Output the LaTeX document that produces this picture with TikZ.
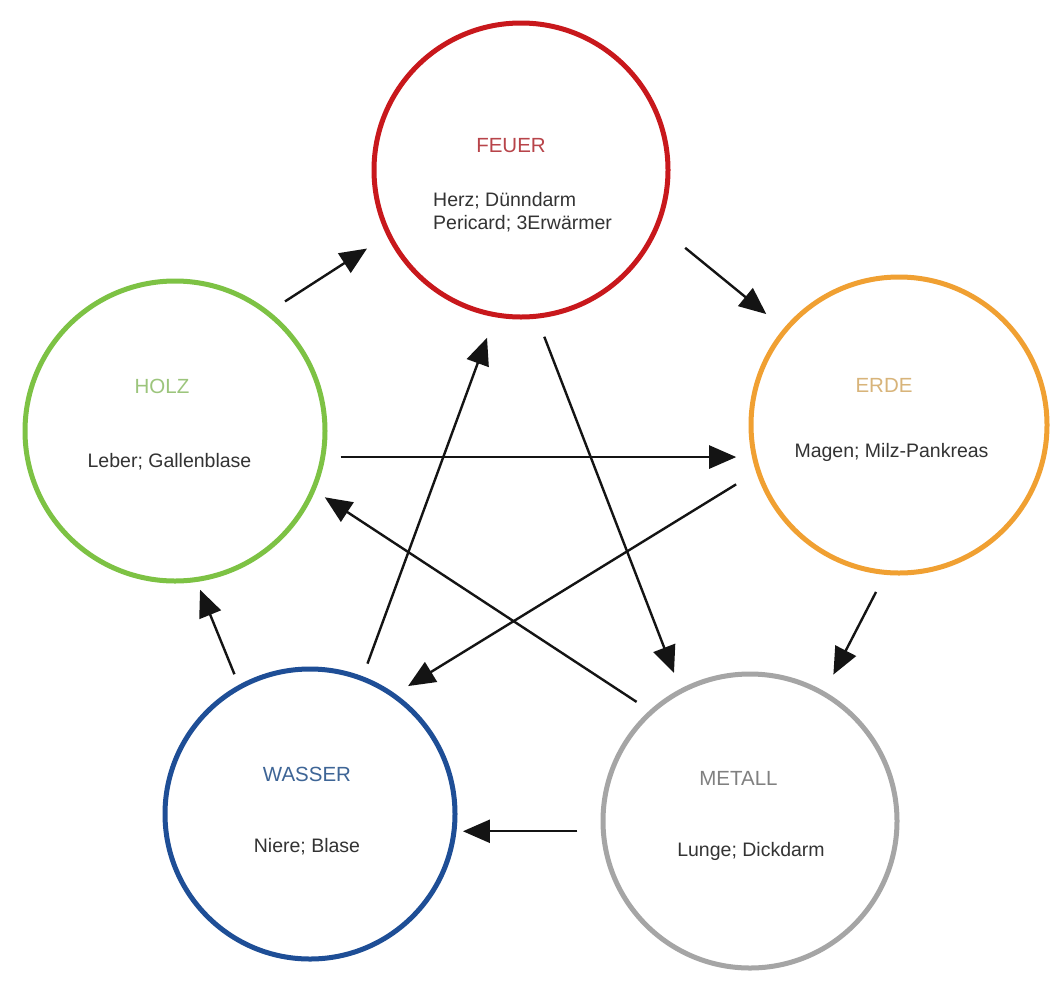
\documentclass[tikz,border=0pt]{standalone}
\usepackage{fontspec}
\setmainfont{Liberation Sans}
\usetikzlibrary{arrows.meta}
\definecolor{feuerC}{RGB}{200,24,28}
\definecolor{feuerT}{RGB}{184,68,74}
\definecolor{holzC}{RGB}{125,194,68}
\definecolor{holzT}{RGB}{156,197,124}
\definecolor{erdeC}{RGB}{240,160,50}
\definecolor{erdeT}{RGB}{216,180,122}
\definecolor{wasserC}{RGB}{30,78,150}
\definecolor{wasserT}{RGB}{62,101,150}
\definecolor{metallC}{RGB}{165,165,165}
\definecolor{metallT}{RGB}{128,128,128}
\definecolor{bodyT}{RGB}{51,51,51}
\begin{document}
\begin{tikzpicture}[x=1pt,y=-1pt,
  elem/.style={circle, line width=5pt, inner sep=0pt, outer sep=0pt, fill=none},
  lbl/.style={anchor=base, font=\fontsize{20.5}{24}\selectfont, inner sep=0pt},
  body/.style={anchor=base, font=\fontsize{19.5}{23}\selectfont, text=bodyT, inner sep=0pt},
  arr/.style={line width=2.4pt, draw=black!92, -{Triangle[length=27pt,width=23pt]}}]
\useasboundingbox (0,0) rectangle (1064,999);
\fill[white] (0,0) rectangle (1064,999);

% circles
\node[elem, draw=feuerC, minimum size=294pt] (feuer) at (521,170) {};
\node[elem, draw=holzC, minimum size=300pt] (holz) at (175,431) {};
\node[elem, draw=erdeC, minimum size=296pt] (erde) at (899,425) {};
\node[elem, draw=wasserC, minimum size=290pt] (wasser) at (310,814) {};
\node[elem, draw=metallC, minimum size=294pt] (metall) at (750,821) {};

% labels
\node[lbl, text=feuerT] (feuerL) at (511,152) {FEUER};
\node[body, anchor=base west] (feuerB1) at (433,206) {Herz; Dünndarm};
\node[body, anchor=base west] (feuerB2) at (433,229) {Pericard; 3Erwärmer};

\node[lbl, text=holzT] (holzL) at (162,393) {HOLZ};
\node[body] (holzB) at (169.5,467) {Leber; Gallenblase};

\node[lbl, text=erdeT] (erdeL) at (884,392) {ERDE};
\node[body] (erdeB) at (891.5,457) {Magen; Milz-Pankreas};

\node[lbl, text=wasserT] (wasserL) at (307,781) {WASSER};
\node[body] (wasserB) at (307,852) {Niere; Blase};

\node[lbl, text=metallT] (metallL) at (738.5,785) {METALL};
\node[body] (metallB) at (751,856) {Lunge; Dickdarm};

% outer cycle
\draw[arr, shorten <=21pt, shorten >=26pt] (holz.52) -- (feuer.206);
\draw[arr, shorten <=36pt, shorten >=25pt] (feuer.338) -- (erde.140);
\draw[arr, shorten <=22pt, shorten >=21.5pt] (erde.265) -- (metall.60);
\draw[arr, shorten <=26pt, shorten >=9pt] (metall.184) -- (wasser.353 |- metall.184);
\draw[arr, shorten <=14pt, shorten >=11pt] (wasser.119) -- (holz.278);

% star
\draw[arr, shorten <=18pt, shorten >=18pt] (holz.350) -- (erde.192 |- holz.350);
\draw[arr, shorten <=22pt, shorten >=19.5pt] (feuer.276) -- (metall.118);
\draw[arr, shorten <=26pt, shorten >=17.5pt] (erde.198) -- (wasser.55);
\draw[arr, shorten <=18pt, shorten >=14pt] (metall.132) -- (holz.337);
\draw[arr, shorten <=16pt, shorten >=24.5pt] (wasser.69) -- (feuer.260);
\end{tikzpicture}
\end{document}
